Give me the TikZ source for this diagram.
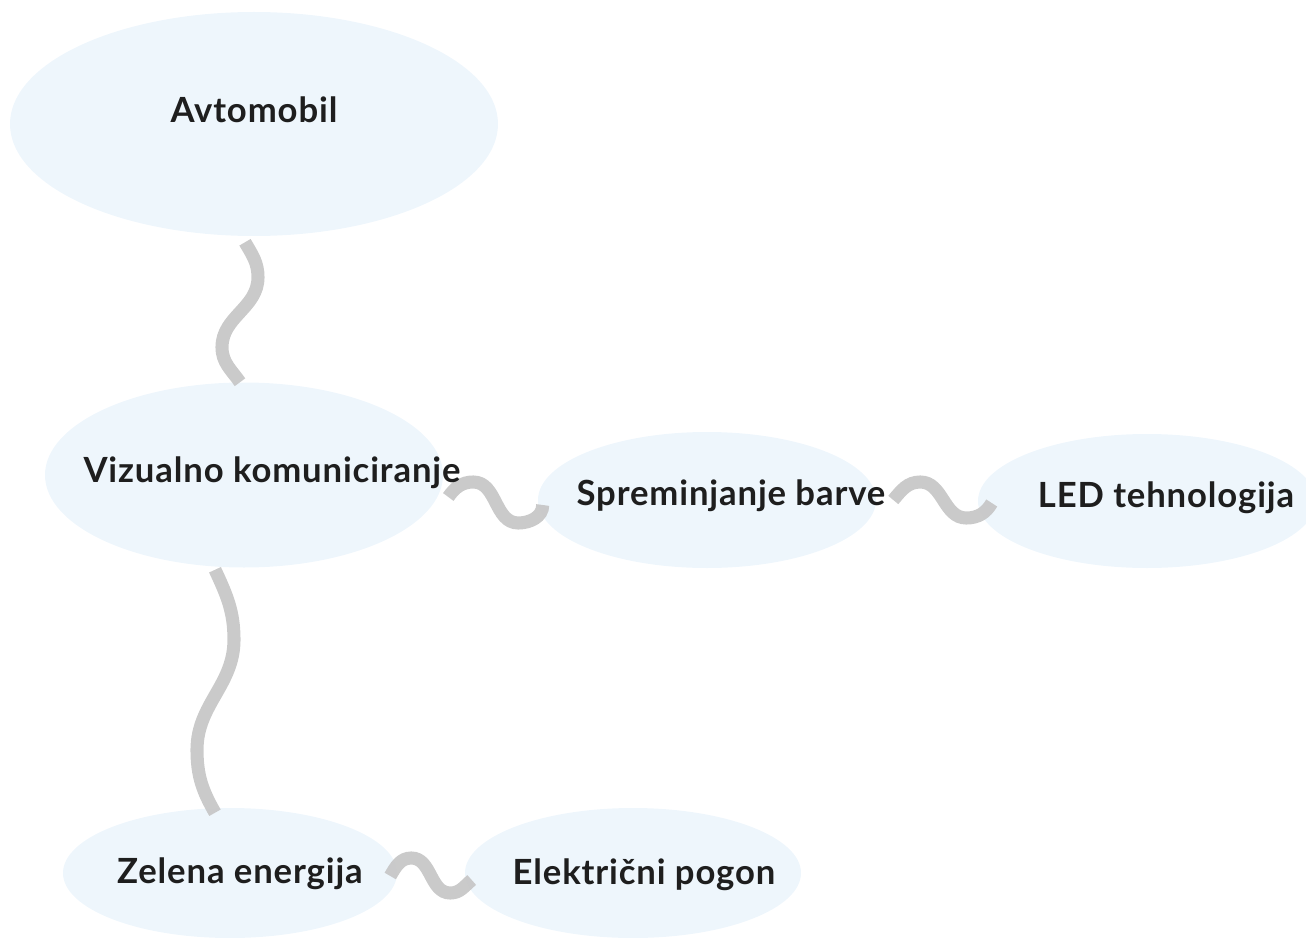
\documentclass[tikz,border=0pt]{standalone}
\usepackage{fontspec}
\setmainfont{Lato}[LetterSpace=2.5]
\usetikzlibrary{shapes.geometric}

\definecolor{bubblefill}{HTML}{EEF6FC}
\definecolor{linkgray}{HTML}{C6C6C6}
\definecolor{inkblack}{HTML}{1E1E1E}

\tikzset{
  bubble/.style={ellipse, fill=bubblefill, inner sep=0pt},
  link/.style={draw=linkgray, line width=9.8pt, opacity=0.92},
  word/.style={font=\fontsize{26}{31}\selectfont\bfseries, text=inkblack, inner sep=0pt},
}

\begin{document}
\begin{tikzpicture}[x=0.75pt, y=-0.75pt]
\useasboundingbox (0,0) rectangle (1306,938);

%%%%%%%%%%%% Bubbles
  \foreach \name/\cx/\cy/\w/\h in {auto/254/124/488/224, viz/244/475/398/185,
      spr/707/500/338/136, led/1147/501/338/134, zel/230/873/334/130, ele/633/873/336/130}
    \node[bubble, minimum width=\w*0.75pt, minimum height=\h*0.75pt] (\name) at (\cx, \cy) {};

%%%%%%%%%%%% Links
  \draw[link] ([shift={(-9,6)}]auto.south) to[out=-60, in=90] ++(13,35)
    to[out=-90, in=90] ++(-36,70) to[out=-90, in=125] ([shift={(-4,0)}]viz.north);
  \draw[link] ([shift={(-29,2)}]viz.south) to[out=-65, in=90] ++(19,70)
    to[out=-90, in=90] ++(-37,110) to[out=-90, in=120] ([shift={(-15,5)}]zel.north);
  \draw[link] ([shift={(5,22)}]viz.east) to[out=55, in=180] ++(25,-15)
    to[out=0, in=180] ++(45,41) to[out=0, in=-90] ([shift={(5,5)}]spr.west);
  \draw[link] ([shift={(17,0)}]spr.east) to[out=50, in=180] ++(27,-18)
    to[out=0, in=180] ++(46,36) to[out=0, in=-120] ([shift={(14,2)}]led.west);
  \draw[link] ([shift={(-7,3)}]zel.east) to[out=60, in=180] ++(21,-18)
    to[out=0, in=180] ++(39,35) to[out=0, in=-140] ([shift={(7,7)}]ele.west);

%%%%%%%%%%%% Words
  \node[word] (autoText) at ([shift={(0,-14)}]auto.center) {Avtomobil};
  \node[word] (vizText) at ([shift={(28,-2)}]viz.center) {Vizualno komuniciranje};
  \node[word] (sprText) at ([shift={(24,-4)}]spr.center) {Spreminjanje barve};
  \node[word] (ledText) at ([shift={(19,-3)}]led.center) {LED tehnologija};
  \node[word] (zelText) at ([shift={(10,1)}]zel.center) {Zelena energija};
  \node[word] (eleText) at ([shift={(11,2)}]ele.center) {Električni pogon};
\end{tikzpicture}
\end{document}
